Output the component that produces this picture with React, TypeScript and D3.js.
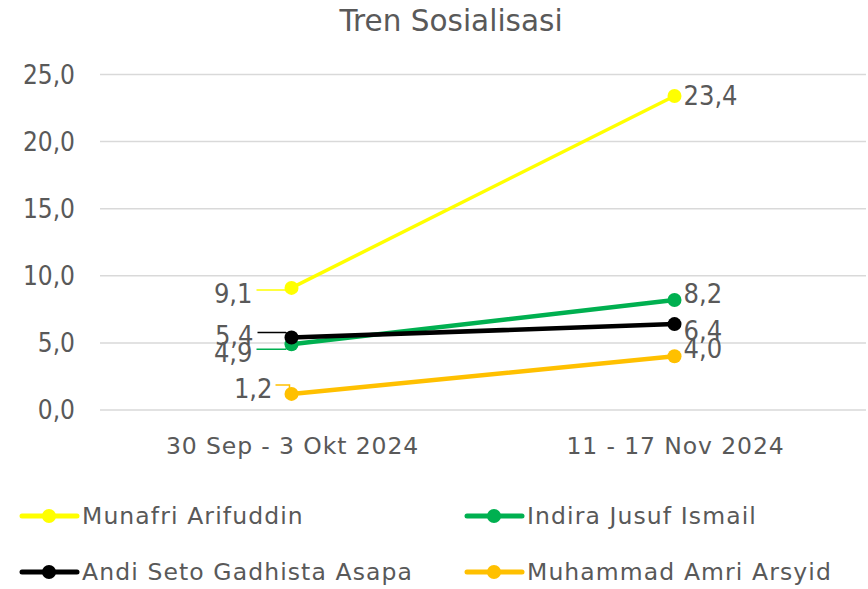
import React from "react";
import * as d3 from "d3";

const categories = ["30 Sep - 3 Okt 2024", "11 - 17 Nov 2024"];
const seriesNames = ["Munafri Arifuddin", "Indira Jusuf Ismail", "Andi Seto Gadhista Asapa", "Muhammad Amri Arsyid"];
const seriesColors = ["#FFFF00", "#00B050", "#000000", "#FFC000"];
const munafri = [9.1, 23.4];
const indira = [4.9, 8.2];
const andi = [5.4, 6.4];
const amri = [1.2, 4.0];
const yTicks = [0, 5, 10, 15, 20, 25];

const W = 868, H = 589;
const FONT = "'DejaVu Sans', sans-serif";
const TXT = "#595959";

// label offsets (dx, dy relative to point) for first and second category
const leftLabelDy = [5, 8, -2, -6];
const leftLabelDx = [-38, -38, -37, -18];
const rightLabelDy = [-1, -7, 6, -8];

export default function App() {
  const data = [munafri, indira, andi, amri];
  const x = d3.scalePoint().domain(categories).range([100, 866]).padding(0.5);
  const y = d3.scaleLinear().domain([0, 25]).range([410, 74.5]);
  const fmt = (v: number) => v.toFixed(1).replace(".", ",");
  const line = d3.line<number>().x((_, i) => x(categories[i])!).y((d) => y(d));
  const drawOrder = [0, 1, 3, 2];
  return (
    <svg width={W} height={H} style={{ display: "block", position: "absolute", left: 0, top: 0 }} fontFamily={FONT}>
      <rect width={W} height={H} fill="#fff" />
      <text x={451} y={31} textAnchor="middle" fontSize={29.5} fill={TXT}>Tren Sosialisasi</text>
      {yTicks.map((t) => (
        <g key={t}>
          <line x1={100} x2={866} y1={y(t)} y2={y(t)} stroke="#D9D9D9" strokeWidth={1.5} />
          <text x={75} y={y(t)} dy="0.36em" textAnchor="end" fontSize={26} fontStretch="condensed" fill={TXT}>{fmt(t)}</text>
        </g>
      ))}
      {categories.map((c) => (
        <text key={c} x={(x(c) as number) + 1} y={454} textAnchor="middle" fontSize={23.5} letterSpacing={0.9} fill={TXT}>{c}</text>
      ))}
      {drawOrder.map((si) => {
        const d = data[si];
        const x0 = x(categories[0])!;
        const y0 = y(d[0]);
        const lx = x0 + leftLabelDx[si];
        const ly = y0 + leftLabelDy[si];
        return (
          <g key={si}>
            <path d={line(d) || ""} fill="none" stroke={seriesColors[si]} strokeWidth={si === 0 ? 3.5 : 4.5} strokeLinecap="round" />
            {d.map((v, i) => (
              <circle key={i} cx={x(categories[i])} cy={y(v)} r={7} fill={seriesColors[si]} />
            ))}
            <path d={si === 3 ? `M${lx + 2},${ly - 3}H${x0 - 2}V${y0}` : `M${lx + 3},${ly - 3}L${x0 - 6},${ly - 3}L${x0},${y0}`} fill="none" stroke={seriesColors[si]} strokeWidth={1.5} />
          </g>
        );
      })}
      {data.map((d, si) => {
        const x0 = x(categories[0])!;
        const x1 = x(categories[1])!;
        return (
          <g key={"l" + si}>
            <text x={x0 + leftLabelDx[si] - 1} y={y(d[0]) + leftLabelDy[si]} dy="0.36em" textAnchor="end" fontSize={27} fontStretch="condensed" fill={TXT}>{fmt(d[0])}</text>
            <text x={x1 + 9} y={y(d[1]) + rightLabelDy[si]} dy="0.36em" textAnchor="start" fontSize={27} fontStretch="condensed" fill={TXT}>{fmt(d[1])}</text>
          </g>
        );
      })}
      {seriesNames.map((n, i) => {
        const col = i % 2;
        const row = Math.floor(i / 2);
        const lx = col === 0 ? 22 : 467;
        const ly = row === 0 ? 516 : 572;
        return (
          <g key={n}>
            <line x1={lx} x2={lx + 55} y1={ly} y2={ly} stroke={seriesColors[i]} strokeWidth={5} strokeLinecap="round" />
            <circle cx={lx + 27} cy={ly} r={7} fill={seriesColors[i]} />
            <text x={lx + 60} y={ly} dy="0.36em" fontSize={23.5} letterSpacing={1.1} fill={TXT}>{n}</text>
          </g>
        );
      })}
    </svg>
  );
}
